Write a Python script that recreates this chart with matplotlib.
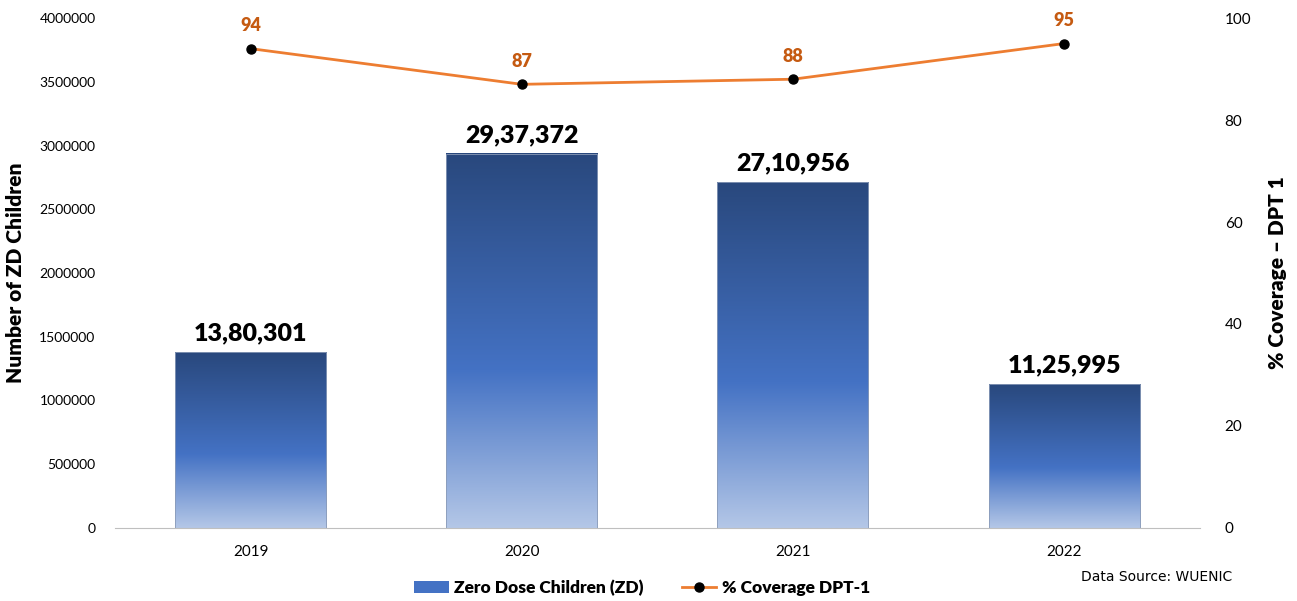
import numpy as np
import matplotlib.pyplot as plt
from matplotlib.colors import LinearSegmentedColormap
from matplotlib.patches import Patch
from matplotlib.lines import Line2D
from matplotlib.ticker import StrMethodFormatter

years = ['2019', '2020', '2021', '2022']
zd_children = [1380301, 2937372, 2710956, 1125995]
zd_labels = ['13,80,301', '29,37,372', '27,10,956', '11,25,995']
coverage = [94, 87, 88, 95]

plt.rcParams['font.family'] = ['Lato', 'DejaVu Sans']

fig = plt.figure(figsize=(12.97, 6.01), dpi=100)
ax = fig.add_axes([0.0887, 0.1215, 0.8363, 0.8485])
ax2 = ax.twinx()

x = np.arange(len(years))
width = 0.557

# gradient fill: light at bottom, mid blue, dark navy at top
cmap = LinearSegmentedColormap.from_list(
    'zd', [(0.0, '#b4c7e7'), (0.42, '#4472c4'), (1.0, '#29487d')])
grad = np.linspace(0, 1, 256).reshape(-1, 1)

bars = ax.bar(x, zd_children, width=width, color='none', edgecolor='#8a9bb8', linewidth=0.6, zorder=2)
for b in bars:
    x0, y0 = b.get_x(), b.get_y()
    ax.imshow(grad, cmap=cmap, origin='lower', aspect='auto',
              extent=[x0, x0 + b.get_width(), y0, y0 + b.get_height()], zorder=1)

for xi, v, lab in zip(x, zd_children, zd_labels):
    ax.text(xi, v + 60000, lab, ha='center', va='bottom', fontsize=18, fontweight='heavy', color='black')

ax.set_xlim(-0.5, 3.5)
ax.set_ylim(0, 4000000)
ax.set_yticks(np.arange(0, 4000001, 500000))
ax.yaxis.set_major_formatter(StrMethodFormatter('{x:.0f}'))
ax.set_xticks(x)
ax.set_xticklabels(years)
ax.tick_params(axis='y', length=0, labelsize=10, pad=14)
ax.tick_params(axis='x', length=0, labelsize=11, pad=12)
for s in ['top', 'left', 'right']:
    ax.spines[s].set_visible(False)
ax.spines['bottom'].set_color('#bfbfbf')
ax.set_ylabel('Number of ZD Children', fontsize=15, fontweight='heavy', labelpad=10)

ax2.plot(x, coverage, color='#ed7d31', linewidth=2, marker='o', markersize=6.5,
         markerfacecolor='black', markeredgecolor='black', zorder=3)
for xi, v in zip(x, coverage):
    ax2.text(xi, v + 2.8, str(v), ha='center', va='bottom', fontsize=13, fontweight='heavy', color='#c55a11')
ax2.set_ylim(0, 100)
ax2.set_yticks(np.arange(0, 101, 20))
ax2.tick_params(axis='y', length=0, labelsize=11, pad=18)
for s in ['top', 'left', 'right', 'bottom']:
    ax2.spines[s].set_visible(False)
ax2.set_ylabel('% Coverage – DPT 1', fontsize=15, fontweight='heavy', labelpad=12)

handles = [Patch(facecolor='#4472c4', edgecolor='none'),
           Line2D([0], [0], color='#ed7d31', linewidth=2, marker='o', markersize=6.5,
                  markerfacecolor='black', markeredgecolor='black')]
fig.legend(handles, ['Zero Dose Children (ZD)', '% Coverage DPT-1'], loc='center',
           bbox_to_anchor=(0.495, 0.022), ncol=2, frameon=False,
           prop={'weight': 'heavy', 'size': 12.5}, handlelength=2.0, handletextpad=0.3,
           columnspacing=2.2)

fig.text(0.95, 0.04, 'Data Source: WUENIC', ha='right', va='center', fontsize=10, family='DejaVu Sans')

fig.savefig('out.png', dpi=100)
